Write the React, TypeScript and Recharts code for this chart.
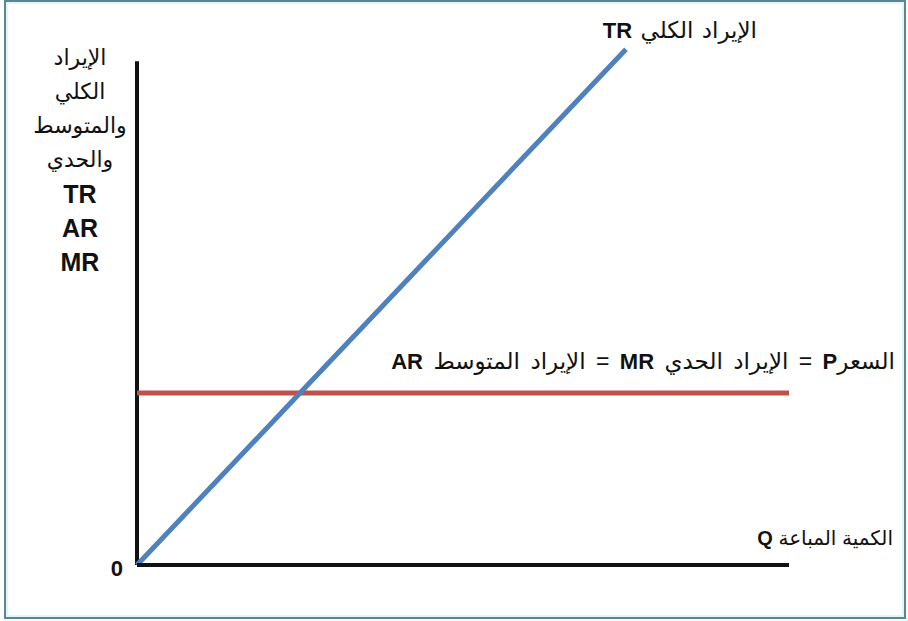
import React from "react";
import {
  LineChart,
  Line,
  XAxis,
  YAxis,
  ReferenceLine,
  Customized,
} from "recharts";

// quantity sold (Q) and revenue values
const quantities = [0, 1, 2, 3, 4];
const totalRevenue = [0, 10, 20, 30, null];
const priceRevenue = [10, 10, 10, 10, 10];
const yTicks = [0];
const yAxisTop = 29.3;

const yTitleLines = ["الإيراد", "الكلي", "والمتوسط", "والحدي", "TR", "AR", "MR"];

const data = quantities.map((q, i) => ({
  q,
  tr: totalRevenue[i],
  p: priceRevenue[i],
}));

const FONT = "'Liberation Sans', Arial, 'DejaVu Sans', sans-serif";
const INK = "#111";

function ChartTexts() {
  return (
    <g fontFamily={FONT} fill={INK}>
      {yTitleLines.map((line, i) => {
        const latin = /^[A-Z]+$/.test(line);
        return (
          <text
            key={line}
            x={80}
            y={57 + i * 34.2}
            textAnchor="middle"
            dominantBaseline="central"
            fontSize={latin ? 25 : 22}
            fontWeight={latin ? 700 : 400}
          >
            {line}
          </text>
        );
      })}
      <text
        x={757}
        y={30}
        direction="rtl"
        textAnchor="start"
        dominantBaseline="central"
        fontSize={23}
        wordSpacing={2}
      >
        الإيراد الكلي <tspan fontWeight={700} fontSize={22}>TR</tspan>
      </text>
      <text
        x={895}
        y={361}
        direction="rtl"
        textAnchor="start"
        dominantBaseline="central"
        fontSize={23}
        wordSpacing={4}
      >
        السعر<tspan fontWeight={700} fontSize={22}>P</tspan> = الإيراد الحدي{" "}
        <tspan fontWeight={700} fontSize={22}>MR</tspan> = الإيراد المتوسط{" "}
        <tspan fontWeight={700} fontSize={22}>AR</tspan>
      </text>
      <text
        x={893}
        y={538}
        direction="rtl"
        textAnchor="start"
        dominantBaseline="central"
        fontSize={20}
      >
        الكمية المباعة <tspan fontWeight={700}>Q</tspan>
      </text>
    </g>
  );
}

export default function App() {
  return (
    <div
      style={{
        position: "absolute",
        left: 0,
        top: 0,
        width: 908,
        height: 621,
        background: "#fff",
      }}
    >
      <div
        style={{
          position: "absolute",
          left: 4,
          top: 0,
          width: 898,
          height: 615,
          border: "2px solid #5b8790",
          boxShadow: "inset 0 0 0 2px #e2f5f8",
        }}
      />
      <div style={{ position: "absolute", left: 0, top: 0 }}>
        <LineChart
          width={908}
          height={621}
          data={data}
          margin={{ top: 32, right: 119, bottom: 26, left: 77 }}
        >
          <XAxis
            dataKey="q"
            type="number"
            domain={[0, 4]}
            height={30}
            tick={false}
            tickLine={false}
            axisLine={{ stroke: INK, strokeWidth: 4 }}
          />
          <YAxis
            type="number"
            domain={[0, 31]}
            ticks={yTicks}
            width={60}
            axisLine={false}
            tickLine={false}
            tickMargin={8}
            tick={{ fill: INK, fontSize: 22, fontWeight: 700, fontFamily: FONT, dy: 3 }}
          />
          <ReferenceLine
            segment={[
              { x: 0, y: 0 },
              { x: 0, y: yAxisTop },
            ]}
            stroke={INK}
            strokeWidth={4}
          />
          <Line
            dataKey="p"
            stroke="#C0504D"
            strokeWidth={5}
            dot={false}
            activeDot={false}
            isAnimationActive={false}
          />
          <Line
            dataKey="tr"
            stroke="#4F81BD"
            strokeWidth={5}
            dot={false}
            activeDot={false}
            isAnimationActive={false}
          />
          <Customized component={<ChartTexts />} />
        </LineChart>
      </div>
    </div>
  );
}
